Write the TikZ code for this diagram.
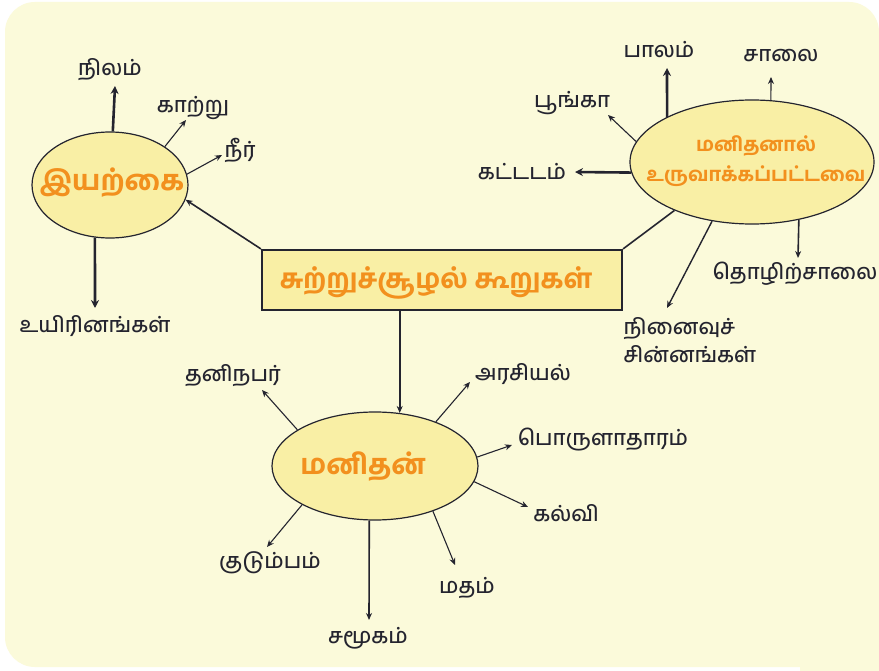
\documentclass[tikz,border=0pt]{standalone}
\usepackage{fontspec}
\newfontfamily\tamilbold[Script=Tamil, UprightFont=* Bold]{Hind Madurai}
\newfontfamily\tamilmed[Script=Tamil, UprightFont=* Medium]{Hind Madurai}
\usetikzlibrary{arrows.meta,shapes.geometric}
\definecolor{bg}{HTML}{FBFADA}
\definecolor{efill}{HTML}{F9EFA5}
\definecolor{orng}{HTML}{F2901E}
\definecolor{ink}{HTML}{24242F}
\begin{document}
\begin{tikzpicture}[x=1pt,y=-1pt,
  lbl/.style={font=\tamilmed\fontsize{21.5}{24}\selectfont, text=ink, inner sep=0pt},
  bubble/.style={ellipse, draw=ink, line width=1.2pt, fill=efill, inner sep=0pt},
  ttl/.style={font=\tamilbold\fontsize{28}{30}\selectfont, text=orng, inner sep=0pt},
  thinarr/.style={draw=ink, line width=1.1pt, -{Stealth[length=7pt,width=6pt]}},
  thickarr/.style={draw=ink, line width=2.6pt, -{Stealth[length=8pt,width=8pt]}},
  plain/.style={draw=ink, line width=1.6pt}
]
\useasboundingbox (0,0) rectangle (879,671);
\fill[white] (0,0) rectangle (879,671);
\fill[bg, rounded corners=30pt] (5,2) rectangle (879,667);
\fill[bg] (800,600) rectangle (879,671);

% central box
\node[draw=ink, line width=2.2pt, fill=efill, minimum width=360pt, minimum height=60pt, inner sep=0pt] (box) at (442,280) {};
\node[ttl, font=\tamilbold\fontsize{27}{30}\selectfont] (boxt) at (436,283) {சுற்றுச்சூழல் கூறுகள்};

% Iyarkai
\node[bubble, minimum width=156pt, minimum height=106pt] (iy) at (110,185) {};
\node[ttl] (iyt) at (112,183) {இயற்கை};

% Manithanal
\node[bubble, minimum width=244pt, minimum height=124pt] (mh) at (752,162) {};
\node[ttl, font=\tamilbold\fontsize{19.5}{30}\selectfont, align=center] (mht) at (756,161) {மனிதனால்\\உருவாக்கப்பட்டவை};

% Manithan
\node[bubble, minimum width=206pt, minimum height=108pt] (mn) at (375,466) {};
\node[ttl] (mnt) at (363,467) {மனிதன்};

% connectors from box
\draw[thinarr, line width=1.6pt] (box.north west) -- (iy.-11);
\draw[plain] (box.north east) -- (mh.212);
\draw[thinarr, line width=1.6pt] (box.south -| mn.65) -- (mn.65);

% Iyarkai children
\coordinate (c-nilam) at (115,86);
\node[lbl] (nilam) at (110,70) {நிலம்};
\draw[thickarr] (iy.87) -- (c-nilam);
\coordinate (c-kaatru) at (186,120);
\node[lbl] (kaatru) at (193,108) {காற்று};
\draw[thinarr] (iy.35) -- (c-kaatru);
\coordinate (c-neer) at (222,155);
\node[lbl] (neer) at (240,150) {நீர்};
\draw[thinarr] (iy.8) -- (c-neer);
\coordinate (c-uyir) at (95,308);
\node[lbl] (uyir) at (95,326) {உயிரினங்கள்};
\draw[thickarr] (iy.254) -- (c-uyir);

% Manithanal children
\coordinate (c-paalam) at (667,68);
\node[lbl] (paalam) at (659,50) {பாலம்};
\draw[thickarr] (mh.152) -- (c-paalam);
\coordinate (c-saalai) at (771,77);
\node[lbl] (saalai) at (781,56) {சாலை};
\draw[thinarr] (mh.73) -- (c-saalai);
\coordinate (c-poonga) at (608,115);
\node[lbl] (poonga) at (572,103) {பூங்கா};
\draw[thinarr] (mh.170) -- (c-poonga);
\coordinate (c-kattadam) at (575,172);
\node[lbl] (kattadam) at (522,172) {கட்டடம்};
\draw[thickarr] (mh.185) -- (c-kattadam);
\coordinate (c-thozhil) at (798,258);
\node[lbl] (thozhil) at (795,274) {தொழிற்சாலை};
\draw[thinarr, line width=1.6pt] (mh.-51) -- (c-thozhil);
\coordinate (c-ninaivu) at (667,308);
\node[lbl, align=left, font=\tamilmed\fontsize{21.5}{28}\selectfont] (ninaivu) at (690,340) {நினைவுச்\\சின்னங்கள்};
\draw[thinarr, line width=1.4pt] (mh.236) -- (c-ninaivu);

% Manithan children
\coordinate (c-thani) at (262,390);
\node[lbl] (thani) at (233,376) {தனிநபர்};
\draw[thinarr] (mn.155) -- (c-thani);
\coordinate (c-arasu) at (470,382);
\node[lbl] (arasu) at (523,374) {அரசியல்};
\draw[thinarr] (mn.36) -- (c-arasu);
\coordinate (c-porul) at (512,445);
\node[lbl] (porul) at (603,440) {பொருளாதாரம்};
\draw[thinarr] (mn.5) -- (c-porul);
\coordinate (c-kalvi) at (528,507);
\node[lbl] (kalvi) at (566,513) {கல்வி};
\draw[thinarr] (mn.-9) -- (c-kalvi);
\coordinate (c-matham) at (455,565);
\node[lbl] (matham) at (467,588) {மதம்};
\draw[thinarr] (mn.-38) -- (c-matham);
\coordinate (c-samu) at (369,620);
\node[lbl] (samu) at (368,638) {சமூகம்};
\draw[thinarr, line width=1.6pt] (mn.264) -- (c-samu);
\coordinate (c-kudu) at (267,547);
\node[lbl] (kudu) at (270,563) {குடும்பம்};
\draw[thinarr] (mn.208) -- (c-kudu);
\end{tikzpicture}
\end{document}
